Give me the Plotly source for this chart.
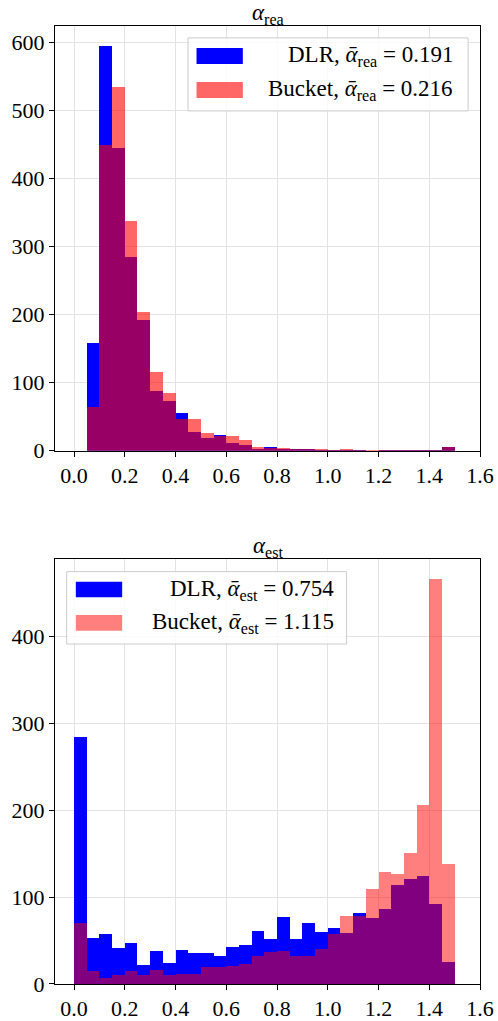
import plotly.graph_objects as go

# ---- data ----
bin_left = [0.00, 0.05, 0.10, 0.15, 0.20, 0.25, 0.30, 0.35, 0.40, 0.45,
            0.50, 0.55, 0.60, 0.65, 0.70, 0.75, 0.80, 0.85, 0.90, 0.95,
            1.00, 1.05, 1.10, 1.15, 1.20, 1.25, 1.30, 1.35, 1.40, 1.45]
bin_width = 0.05

dlr_rea = [0, 158, 594, 445, 284, 192, 87, 73, 55, 27, 19, 23, 12, 9, 3,
           6, 3, 2, 2, 1, 1, 1, 1, 0, 1, 1, 1, 1, 1, 5]
bucket_rea = [0, 64, 449, 534, 338, 203, 115, 84, 46, 47, 26, 22, 21, 16, 6,
              4, 4, 2, 2, 2, 1, 3, 1, 1, 1, 1, 1, 1, 1, 6]

dlr_est = [284, 53, 57, 41, 47, 22, 38, 24, 39, 35, 35, 32, 42, 44, 61,
           51, 77, 51, 70, 59, 64, 58, 81, 75, 86, 113, 120, 124, 92, 25]
bucket_est = [70, 15, 7, 10, 15, 10, 16, 10, 11, 11, 19, 19, 20, 23, 32,
              36, 38, 32, 32, 40, 57, 78, 78, 109, 128, 126, 150, 206, 465, 138]

mean_labels_rea = ["DLR, <i>ᾱ</i><sub>rea</sub> = 0.191", "Bucket, <i>ᾱ</i><sub>rea</sub> = 0.216"]
mean_labels_est = ["DLR, <i>ᾱ</i><sub>est</sub> = 0.754", "Bucket, <i>ᾱ</i><sub>est</sub> = 1.115"]
titles = ["<i>α</i><sub>rea</sub>", "<i>α</i><sub>est</sub>"]

x_ticks = [0.0, 0.2, 0.4, 0.6, 0.8, 1.0, 1.2, 1.4, 1.6]
y_ticks_rea = [0, 100, 200, 300, 400, 500, 600]
y_ticks_est = [0, 100, 200, 300, 400]

FONT = "Liberation Serif"
BLUE = "rgb(0,0,255)"
RED_TOP = "rgba(255,0,0,0.6)"
RED_BOT = "rgba(255,0,0,0.5)"

fig = go.Figure()

fig.add_trace(go.Bar(x=bin_left, y=dlr_rea, width=bin_width, offset=0,
                     marker=dict(color=BLUE, line=dict(width=0)),
                     xaxis="x", yaxis="y", showlegend=False))
fig.add_trace(go.Bar(x=bin_left, y=bucket_rea, width=bin_width, offset=0,
                     marker=dict(color=RED_TOP, line=dict(width=0)),
                     xaxis="x", yaxis="y", showlegend=False))
fig.add_trace(go.Bar(x=bin_left, y=dlr_est, width=bin_width, offset=0,
                     marker=dict(color=BLUE, line=dict(width=0)),
                     xaxis="x2", yaxis="y2", showlegend=False))
fig.add_trace(go.Bar(x=bin_left, y=bucket_est, width=bin_width, offset=0,
                     marker=dict(color=RED_BOT, line=dict(width=0)),
                     xaxis="x2", yaxis="y2", showlegend=False))

axis_common = dict(
    showline=True, linecolor="black", linewidth=1, mirror=True,
    ticks="outside", ticklen=5, tickwidth=1, tickcolor="black",
    showgrid=True, gridcolor="#e3e3e3", gridwidth=1, zeroline=False,
    automargin=False,
    tickfont=dict(family=FONT, size=22, color="black"),
)

ymax_rea = max(max(dlr_rea), max(bucket_rea)) * 1.05
ymax_est = max(max(dlr_est), max(bucket_est)) * 1.05

fig.update_layout(
    template="none",
    width=498, height=1021,
    margin=dict(l=55, r=18, t=26, b=37),
    plot_bgcolor="white", paper_bgcolor="white",
    barmode="overlay", bargap=0,
    font=dict(family=FONT, size=22, color="black"),
    xaxis=dict(domain=[0, 1], anchor="y", range=[-0.075, 1.6],
               tickvals=x_ticks, ticktext=[f"{v:.1f}" for v in x_ticks], **axis_common),
    yaxis=dict(domain=[0.5567, 1], anchor="x", range=[0, ymax_rea],
               tickvals=y_ticks_rea, **axis_common),
    xaxis2=dict(domain=[0, 1], anchor="y2", range=[-0.075, 1.6],
                tickvals=x_ticks, ticktext=[f"{v:.1f}" for v in x_ticks], **axis_common),
    yaxis2=dict(domain=[0, 0.4433], anchor="x2", range=[0, ymax_est],
                tickvals=y_ticks_est, **axis_common),
)

shapes = []
annotations = []


def add_legend(xref, yref, box, patch_x, patch_y_blue, patch_y_red, text_x, labels, red):
    shapes.append(dict(type="rect", xref=xref, yref=yref,
                       x0=box[0], x1=box[1], y0=box[2], y1=box[3],
                       fillcolor="rgba(255,255,255,0.8)",
                       line=dict(color="#cccccc", width=1), layer="above"))
    shapes.append(dict(type="rect", xref=xref, yref=yref,
                       x0=patch_x[0], x1=patch_x[1], y0=patch_y_blue[0], y1=patch_y_blue[1],
                       fillcolor=BLUE, line=dict(width=0), layer="above"))
    shapes.append(dict(type="rect", xref=xref, yref=yref,
                       x0=patch_x[0], x1=patch_x[1], y0=patch_y_red[0], y1=patch_y_red[1],
                       fillcolor=red, line=dict(width=0), layer="above"))
    for lab, ys in zip(labels, [patch_y_blue, patch_y_red]):
        annotations.append(dict(xref=xref, yref=yref, x=text_x, y=(ys[0] + ys[1]) / 2,
                                text=lab, showarrow=False, xanchor="right", yanchor="middle",
                                font=dict(family=FONT, size=23, color="black")))


add_legend("x domain", "y domain", (0.313, 0.972, 0.800, 0.972), (0.333, 0.442),
           (0.9105, 0.948), (0.8305, 0.868), 0.941, mean_labels_rea, RED_TOP)
add_legend("x2 domain", "y2 domain", (0.0275, 0.686, 0.8006, 0.971), (0.049, 0.158),
           (0.9105, 0.947), (0.832, 0.869), 0.661, mean_labels_est, RED_BOT)

for t, xr, yr in zip(titles, ["x domain", "x2 domain"], ["y domain", "y2 domain"]):
    annotations.append(dict(xref=xr, yref=yr, x=0.5, y=1.0, text=t, showarrow=False,
                            xanchor="center", yanchor="bottom", yshift=-4,
                            font=dict(family=FONT, size=23, color="black")))

fig.update_layout(shapes=shapes, annotations=annotations)

fig.write_html(
    "out.html",
    config={"displayModeBar": False},
    post_script="document.body.style.margin='0';document.body.style.overflow='hidden';",
)
